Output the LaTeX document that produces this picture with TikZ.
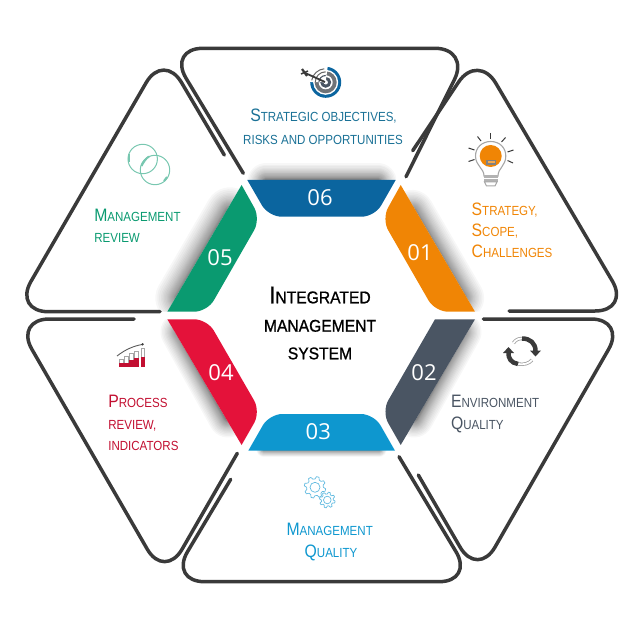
\documentclass[tikz,border=0pt]{standalone}
\usepackage{fontspec}
\setmainfont[FakeStretch=0.875]{Liberation Sans}
\newfontfamily\numfont{Open Sans}
\newfontfamily\centrefont[FakeStretch=0.92,FakeBold=1]{Liberation Sans}
\usetikzlibrary{calc,arrows.meta}
\definecolor{cA}{HTML}{F08505}
\definecolor{cB}{HTML}{4A5563}
\definecolor{cC}{HTML}{0E97CF}
\definecolor{cD}{HTML}{E4123A}
\definecolor{cE}{HTML}{0A9A70}
\definecolor{cF}{HTML}{0B659F}
\definecolor{tF}{HTML}{1A7196}
\definecolor{outl}{HTML}{3A3A3A}
\newcommand{\bigsm}[2]{{\fontsize{18}{18}\selectfont #1}{\fontsize{13.2}{13.2}\selectfont #2}}
\newcommand{\smo}[1]{{\fontsize{13.2}{13.2}\selectfont #1}}
% #3 scales a falloff that is dense near the edge and thin far from it
\newcommand{\softshadow}[4]{%
  \begin{scope}\clip #4;
  \foreach \w in {1,2,3,4,5,6,7,8,9,10,11,12,13,14,16,18,20,22,24,26,28,31,34,37,40,44,48,52}{\draw[line width=\w*#3 pt,black,opacity=.032,line cap=round] #1 -- #2;}
  \end{scope}}
\tikzset{
  x=1pt,y=-1pt,
  outline/.style={draw=outl,line width=3.5pt,line cap=round,line join=round,rounded corners=35pt},
  lab/.style={anchor=base west,inner sep=0pt,outer sep=0pt},
  clab/.style={anchor=base,inner sep=0pt,outer sep=0pt},
  num/.style={text=white,inner sep=0pt,font=\numfont\fontsize{22}{22}\selectfont},
}
\begin{document}
\begin{tikzpicture}
\useasboundingbox (0,0) rectangle (636,636);
% outlines
\draw[outline] (243.3,173.3) -- (168,48.3) -- (470,48.3) -- (406,176.7);
\draw[outline] (412.7,150.7) -- (478,53) -- (630,311) -- (509,311);
\draw[outline] (483.3,319) -- (626,319) -- (477.6,577.4) -- (418.3,475);
\draw[outline] (230.7,479.3) -- (169.6,581.7) -- (474,581.7) -- (399,456.7);
\draw[outline] (134,319) -- (14.4,319) -- (164.7,579.4) -- (237.3,453.3);
\draw[outline] (160,311.7) -- (13.4,311.7) -- (163.7,52.4) -- (224.3,155);
% shadows
\softshadow{(266,182)}{(378,182)}{0.72}{(247,180) -- (396,180) -- (396,140) -- (247,140) -- cycle}
\softshadow{(412,212)}{(462,298)}{0.85}{(400.7,185) -- (475,311.7) -- (525,311.7) -- (445,165) -- cycle}
\softshadow{(462,332)}{(414,418)}{0.75}{(475,319.3) -- (400.7,445) -- (440,470) -- (525,319.3) -- cycle}
\softshadow{(264,449)}{(379,449)}{0.3}{(248,450.7) -- (395,450.7) -- (395,480) -- (248,480) -- cycle}
\softshadow{(180,332)}{(228,418)}{0.75}{(167.3,319.3) -- (241.6,445) -- (200,470) -- (118,319.3) -- cycle}
\softshadow{(180,298)}{(230,212)}{0.95}{(241.6,185) -- (167.3,311.7) -- (118,311.7) -- (200,165) -- cycle}
% segments
\fill[cF] (247.3,180) [rounded corners=13pt] -- (268.5,216.7) -- (374.7,216.7) [sharp corners] -- (395.7,180) -- cycle;
\fill[cA] (400.7,185) [rounded corners=13pt] -- (381.7,219) -- (435,311.7) [sharp corners] -- (475,311.7) -- cycle;
\fill[cB] (475,319.3) -- (435,319.3) [rounded corners=13pt] -- (381.7,411.7) [sharp corners] -- (400.7,445) -- cycle;
\fill[cC] (248.3,450.7) [rounded corners=13pt] -- (269.3,414) -- (374,414) [sharp corners] -- (395,450.7) -- cycle;
\fill[cD] (167.3,319.3) [rounded corners=13pt] -- (207.3,319.3) -- (260.6,411.7) [sharp corners] -- (241.6,445) -- cycle;
\fill[cE] (241.6,185) [rounded corners=13pt] -- (260.6,219) -- (207.3,311.7) [sharp corners] -- (167.3,311.7) -- cycle;
% numbers
\node[num] (n06) at (320,197.3) {06};
\node[num] (n01) at (420,252.7) {01};
\node[num] (n02) at (424,372.7) {02};
\node[num] (n03) at (318.3,431.7) {03};
\node[num] (n04) at (221,372.7) {04};
\node[num] (n05) at (220,257.3) {05};
% centre
\node[clab,text=black] (c1) at (320,303.3) {\centrefont{\fontsize{24}{24}\selectfont I}{\fontsize{17}{17}\selectfont NTEGRATED}};
\node[clab,text=black] (c2) at (320,331.7) {\centrefont\fontsize{17}{17}\selectfont MANAGEMENT};
\node[clab,text=black] (c3) at (320,359.3) {\centrefont\fontsize{17}{17}\selectfont SYSTEM};
% labels
\node[clab,text=tF] (l6a) at (323.5,121.7) {\bigsm{S}{TRATEGIC OBJECTIVES,}};
\node[clab,text=tF] (l6b) at (323,144.3) {\smo{RISKS AND OPPORTUNITIES}};
\node[lab,text=cA] (l1a) at (471.7,215) {\bigsm{S}{TRATEGY,}};
\node[lab,text=cA] (l1b) at (471.7,236.7) {\bigsm{S}{COPE,}};
\node[lab,text=cA] (l1c) at (471.7,257.7) {\bigsm{C}{HALLENGES}};
\node[lab,text=cB] (l2a) at (451,407.3) {\bigsm{E}{NVIRONMENT}};
\node[lab,text=cB] (l2b) at (451,429) {\bigsm{Q}{UALITY}};
\node[clab,text=cC] (l3a) at (329.7,535) {\bigsm{M}{ANAGEMENT}};
\node[clab,text=cC] (l3b) at (331,557.3) {\bigsm{Q}{UALITY}};
\node[lab,text=cD!85!black] (l4a) at (108.3,407.3) {\bigsm{P}{ROCESS}};
\node[lab,text=cD!85!black] (l4b) at (108.3,429.3) {\smo{REVIEW,}};
\node[lab,text=cD!85!black] (l4c) at (108.3,450) {\smo{INDICATORS}};
\node[lab,text=cE] (l5a) at (94.3,221) {\bigsm{M}{ANAGEMENT}};
\node[lab,text=cE] (l5b) at (94.3,242.7) {\smo{REVIEW}};
% icon: target
\fill[cF] (325.7,82.3) circle[radius=15.5];
\fill[white] (325.7,82.3) circle[radius=12.5];
\fill[gray!70!cB] (325.7,82.3) circle[radius=11];
\fill[white] (325.7,82.3) circle[radius=7];
\fill[cB] (325.7,82.3) circle[radius=5.5];
\fill[white] (325.7,82.3) circle[radius=2.2];
\fill[white] (325.7,82.3) -- (307,82) -- (305,70) -- (316,63) -- (328,64) -- cycle;
\draw[gray!80!black,line width=1pt] (325.7,82.3) ++(-14,-2) arc[start angle=190,end angle=265,radius=14];
\draw[gray!80!black,line width=1pt] (325.7,82.3) ++(-10.5,0) arc[start angle=180,end angle=270,radius=10.5];
\draw[cB,line width=1.1pt] (325.7,82.3) ++(-6.8,0) arc[start angle=180,end angle=270,radius=6.8];
\draw[outl,line width=1.8pt] (303,72) -- (325,82);
\draw[outl,line width=2.2pt] (302,69) -- (307,76);
\draw[outl,line width=1.5pt] (301,74) -- (308,71);
% icon: bulb
\fill[white,draw=gray!70,line width=1.1pt] (484,176) .. controls (484,168) and (475.5,166) .. (475.5,156) .. controls (475.5,147.5) and (482,141.5) .. (490.7,141.5) .. controls (499.4,141.5) and (505.8,147.5) .. (505.8,156) .. controls (505.8,166) and (498,168) .. (498,176) -- cycle;
\fill[cA] (490.7,156) circle[radius=11];
\fill[gray!60!black!70] (486,160) rectangle (496,165);
\fill[cA!70!white] (487.5,161) rectangle (494.5,163);
\fill[gray!60] (483.5,175) rectangle (498,182);
\draw[white,line width=.7pt] (483.5,178) -- (498,178);
\draw[gray!70,line width=1pt,fill=white] (484.5,182) -- (497,182) -- (495,186) -- (486.5,186) -- cycle;
\foreach \a/\b/\c/\d in {490.7/133/490.7/139,477.5/136.5/481/141,505.5/137.5/501.5/142,468.5/148/474.5/150,513.5/150/507.5/152,468.5/161.5/474.5/159.5,513/163/507.5/160.5}{\draw[outl,line width=1pt] (\a,\b) -- (\c,\d);}
% icon: cycle
\draw[gray!75,line width=3.4pt] (522,338.5) .. controls (518,338.5) and (515.5,340) .. (513.5,343);
\draw[white,line width=1.8pt] (522,338.5) .. controls (518,338.5) and (515.5,340) .. (513.5,343);
\draw[gray!75,line width=3.4pt] (518,364) .. controls (524,365) and (529,363.5) .. (532,360);
\draw[white,line width=1.8pt] (518,364) .. controls (524,365) and (529,363.5) .. (532,360);
\draw[outl,line width=4.5pt] (522,338.5) .. controls (530,338.5) and (535.5,343) .. (535.5,351);
\fill[outl] (530,350.5) -- (541,350.5) -- (535.5,356.5) -- cycle;
\draw[outl,line width=4.5pt] (518,364) .. controls (511,363) and (508,358) .. (508.5,352.5);
\fill[outl] (503,353) -- (514,353) -- (508.5,347) -- cycle;
% icon: gears
\foreach \x/\y/\r/\R/\q in {315/487.3/8.4/10.8/5,327.3/500/6/7.9/3.8}{
  \draw[cC!65!white,line width=.7pt,line join=round] ($(\x,\y)+(0:\r)$)
    foreach \k in {0,...,7}{ -- ($(\x,\y)+(\k*45+8:\R)$) -- ($(\x,\y)+(\k*45+22:\R)$) -- ($(\x,\y)+(\k*45+30:\r)$) -- ($(\x,\y)+(\k*45+45:\r)$)} -- cycle;
  \draw[cC!65!white,line width=.7pt] (\x,\y) circle[radius=\q];
}
% icon: bars
\foreach \x/\t/\f in {121.5/359/363,126.5/356.7/363,131.5/353/360,136.5/351/358.3,143/348/356.7}{
  \draw[gray!70,line width=.8pt] (\x-1.8,367) -- (\x-1.8,\t) -- (\x+1.8,\t) -- (\x+1.8,367);
  \fill[cD!85!black] (\x-2.2,\f) rectangle (\x+2.2,367.3);
}
\draw[gray!70!black,line width=.9pt] (117,356) .. controls (126,349) and (134,346) .. (142,344.5);
\fill[outl] (142.5,344.3) circle[radius=1.3];
% icon: rings
\draw[cE!55!white,line width=1pt] (142.7,159) circle[radius=14.7];
\draw[cE!55!white,line width=1pt] (155,170) circle[radius=14.7];
\draw[cE!55!white,line width=2pt] (141.5,166) .. controls (143,163) and (146,158) .. (149,156.5);
\draw[cE!55!white,line width=2pt] (128.5,154) -- (128.5,162);
\draw[cE!55!white,line width=2pt] (164,181) -- (167,177);
\end{tikzpicture}
\end{document}
